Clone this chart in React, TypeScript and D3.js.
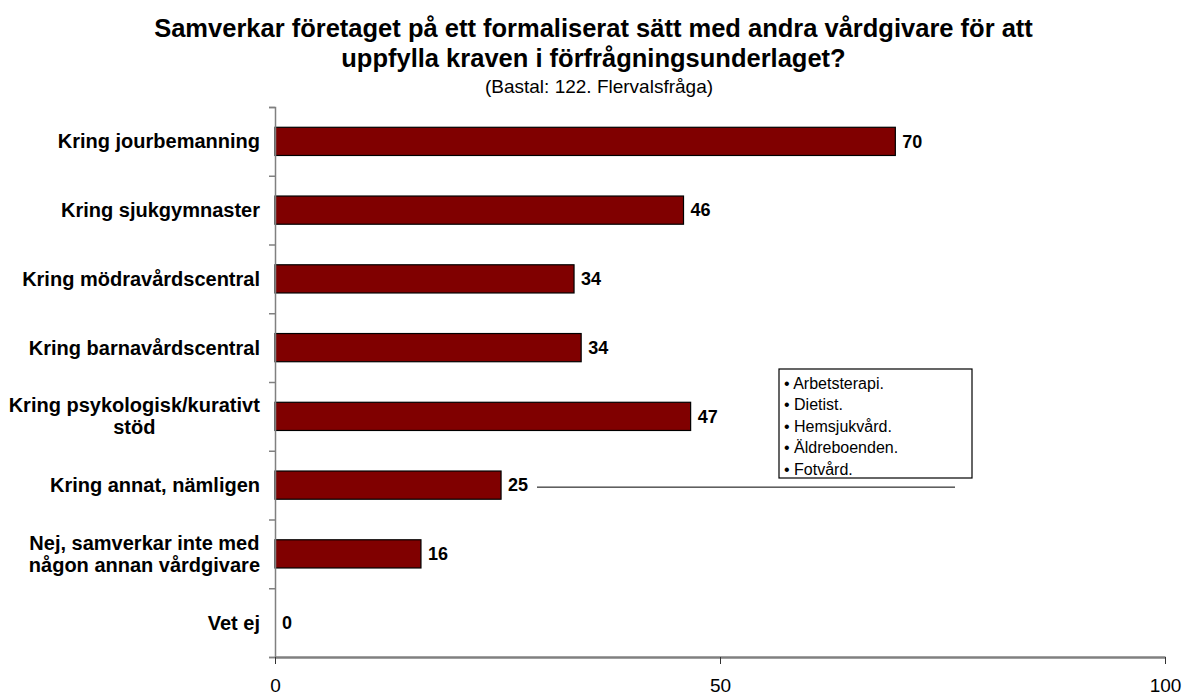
import React, { useEffect, useRef } from "react";
import * as d3 from "d3";

const categories = [
  ["Kring jourbemanning"],
  ["Kring sjukgymnaster"],
  ["Kring mödravårdscentral"],
  ["Kring barnavårdscentral"],
  ["Kring psykologisk/kurativt", "stöd"],
  ["Kring annat, nämligen"],
  ["Nej, samverkar inte med", "någon annan vårdgivare"],
  ["Vet ej"],
];
const values = [69.7, 45.9, 33.6, 34.4, 46.7, 25.4, 16.4, 0];
const valueLabels = ["70", "46", "34", "34", "47", "25", "16", "0"];
const xTicks = [0, 50, 100];
const otherItems = ["Arbetsterapi.", "Dietist.", "Hemsjukvård.", "Äldreboenden.", "Fotvård."];
const titleLines = [
  "Samverkar företaget på ett formaliserat sätt med andra vårdgivare för att",
  "uppfylla kraven i förfrågningsunderlaget?",
];
const subtitle = "(Bastal: 122. Flervalsfråga)";

const FONT = "'Liberation Sans', Arial, Helvetica, sans-serif";

const App = () => {
  const svgRef = useRef(null);

  useEffect(() => {
    const svg = d3.select(svgRef.current);
    svg.selectAll("*").remove();

    const width = 1193;
    const margin = { top: 107, bottom: 657, left: 275, right: 1165 };
    const keys = categories.map((c, i) => String(i));

    const x = d3.scaleLinear().domain([0, 100]).range([margin.left, margin.right]);
    const y = d3
      .scaleBand()
      .domain(keys)
      .range([margin.top, margin.bottom])
      .paddingInner(0.59)
      .paddingOuter(0.295);
    const yTicks = d3.scaleLinear().domain([0, categories.length]).range([margin.top, margin.bottom]);

    // Title
    svg
      .append("g")
      .selectAll("text")
      .data(titleLines)
      .join("text")
      .attr("x", width / 2 - 3)
      .attr("y", (d, i) => 37 + i * 29.5)
      .attr("text-anchor", "middle")
      .attr("font-family", FONT)
      .attr("font-weight", "bold")
      .attr("font-size", 25.5)
      .text((d) => d);

    svg
      .append("text")
      .attr("x", 599)
      .attr("y", 93)
      .attr("text-anchor", "middle")
      .attr("font-family", FONT)
      .attr("font-size", 19)
      .text(subtitle);

    // Bars
    svg
      .append("g")
      .selectAll("rect")
      .data(values)
      .join("rect")
      .attr("x", x(0))
      .attr("y", (d, i) => y(keys[i]))
      .attr("width", (d) => x(d) - x(0))
      .attr("height", y.bandwidth())
      .attr("fill", (d) => (d > 0 ? "#800000" : "none"))
      .attr("stroke", (d) => (d > 0 ? "#000" : "none"))
      .attr("stroke-width", 1.2);

    // Value labels
    svg
      .append("g")
      .selectAll("text")
      .data(values)
      .join("text")
      .attr("x", (d) => x(d) + 7)
      .attr("y", (d, i) => y(keys[i]) + y.bandwidth() / 2)
      .attr("dy", "0.35em")
      .attr("font-family", FONT)
      .attr("font-weight", "bold")
      .attr("font-size", 18)
      .text((d, i) => valueLabels[i]);

    // Left axis
    const left = svg
      .append("g")
      .attr("transform", `translate(${margin.left},0)`)
      .call(
        d3
          .axisLeft(yTicks)
          .tickValues(d3.range(categories.length + 1))
          .tickSize(6)
          .tickFormat(() => "")
      );
    left.selectAll("path, line").attr("stroke", "#808080").attr("stroke-width", 1.5);

    // Category labels
    const catG = svg.append("g");
    categories.forEach((lines, i) => {
      const cy = y(keys[i]) + y.bandwidth() / 2;
      const lh = 22;
      const t = catG
        .append("text")
        .attr("font-family", FONT)
        .attr("font-weight", "bold")
        .attr("font-size", 20)
        .attr("text-anchor", lines.length > 1 ? "middle" : "end");
      const start = cy - ((lines.length - 1) * lh) / 2;
      lines.forEach((line, j) => {
        t.append("tspan")
          .attr("x", 260)
          .attr("y", start + j * lh)
          .attr("dy", "0.35em")
          .text(line);
      });
      if (lines.length > 1) {
        // wrapped labels: lines centred on each other, right edge at 260
        const w = t.node().getBBox().width;
        t.selectAll("tspan").attr("x", 260 - w / 2);
      }
    });

    // Bottom axis
    const bottom = svg
      .append("g")
      .attr("transform", `translate(0,${margin.bottom})`)
      .call(d3.axisBottom(x).tickValues(xTicks).tickSize(7).tickPadding(15).tickSizeOuter(0));
    bottom.select(".domain").attr("stroke", "#808080").attr("stroke-width", 2.5);
    bottom.selectAll("line").attr("stroke", "#333").attr("stroke-width", 1);
    bottom
      .selectAll("text")
      .attr("font-family", FONT)
      .attr("font-size", 19)
      .attr("fill", "#000");

    // Note for "annat"
    const annatY = y(keys[5]) + y.bandwidth() / 2 + 2;
    svg
      .append("line")
      .attr("x1", 537)
      .attr("x2", 955)
      .attr("y1", annatY)
      .attr("y2", annatY)
      .attr("stroke", "#000")
      .attr("stroke-width", 1);

    const box = svg.append("g").attr("transform", "translate(779,369)");
    box
      .append("rect")
      .attr("width", 193)
      .attr("height", 109)
      .attr("fill", "#fff")
      .attr("stroke", "#000")
      .attr("stroke-width", 1.2);
    box
      .selectAll("text")
      .data(otherItems)
      .join("text")
      .attr("x", 5)
      .attr("y", (d, i) => 14 + i * 21.5)
      .attr("dy", "0.35em")
      .attr("font-family", FONT)
      .attr("font-size", 16)
      .text((d) => "• " + d);
  }, []);

  return (
    <svg
      ref={svgRef}
      width={1193}
      height={695}
      style={{ position: "absolute", left: 0, top: 0, background: "#fff" }}
    ></svg>
  );
};

export default App;
